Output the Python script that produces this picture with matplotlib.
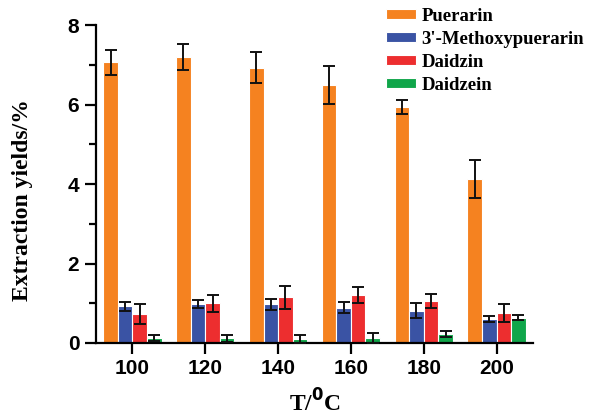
import matplotlib
matplotlib.use("Agg")
import matplotlib.pyplot as plt
import numpy as np
from matplotlib.ticker import MultipleLocator

temps = ["100", "120", "140", "160", "180", "200"]
series = ["Puerarin", "3'-Methoxypuerarin", "Daidzin", "Daidzein"]
puerarin = [7.06, 7.20, 6.93, 6.49, 5.94, 4.12]
puerarin_err = [0.31, 0.33, 0.38, 0.48, 0.17, 0.48]
methoxy = [0.92, 0.99, 0.97, 0.89, 0.81, 0.60]
methoxy_err = [0.12, 0.10, 0.14, 0.13, 0.19, 0.08]
daidzin = [0.74, 1.00, 1.15, 1.21, 1.06, 0.75]
daidzin_err = [0.25, 0.21, 0.29, 0.21, 0.17, 0.22]
daidzein = [0.13, 0.12, 0.10, 0.13, 0.23, 0.64]
daidzein_err = [0.08, 0.09, 0.09, 0.12, 0.08, 0.06]

colors = ["#F58220", "#3A53A4", "#ED2E2F", "#10A64A"]
values = [puerarin, methoxy, daidzin, daidzein]
errors = [puerarin_err, methoxy_err, daidzin_err, daidzein_err]

fig = plt.figure(figsize=(5.89, 4.16), dpi=100)
ax = fig.add_axes([96/589, 73/416, 437/589, 318/416])

x = np.arange(len(temps))
offsets = [-0.3, -0.1, 0.1, 0.3]
for vals, errs, c, off, name in zip(values, errors, colors, offsets, series):
    ax.bar(x + off, vals, width=0.2, color=c, edgecolor="white", linewidth=0.8,
           label=name, zorder=2)
    ax.errorbar(x + off, vals, yerr=errs, fmt="none", ecolor="#111111",
                elinewidth=1.4, capsize=4, capthick=1.4, zorder=3)

ax.set_xlim(-0.5, 5.5)
ax.set_ylim(0, 8)
ax.set_xticks(x)
ax.set_xticklabels(temps)
ax.yaxis.set_major_locator(MultipleLocator(2))
ax.yaxis.set_minor_locator(MultipleLocator(1))
for s in ["top", "right"]:
    ax.spines[s].set_visible(False)
for s in ["left", "bottom"]:
    ax.spines[s].set_linewidth(1.6)
ax.tick_params(axis="both", which="major", direction="out", length=8, width=1.6,
               labelsize=15)
ax.tick_params(axis="y", which="minor", direction="out", length=5, width=1.6)
ax.tick_params(axis="y", which="major", pad=4)
for lab in ax.get_xticklabels() + ax.get_yticklabels():
    lab.set_fontweight("bold")
    lab.set_family("Liberation Sans")

ax.set_ylabel("Extraction yields/%", fontsize=17, fontweight="bold",
              family="Liberation Serif")
ax.yaxis.set_label_coords(-0.145, 0.45)
ax.set_xlabel(r"T/$^{\mathbf{0}}$C", fontsize=17, fontweight="bold",
              family="Liberation Serif", labelpad=8)

leg = ax.legend(loc="upper left", bbox_to_anchor=(290/437, 1.055), frameon=False,
                prop={"family": "Liberation Serif", "weight": "bold", "size": 13.5},
                handlelength=1.6, handleheight=0.45, handletextpad=0.3,
                labelspacing=0.33, borderaxespad=0, borderpad=0)

fig.savefig("out.png", dpi=100)
